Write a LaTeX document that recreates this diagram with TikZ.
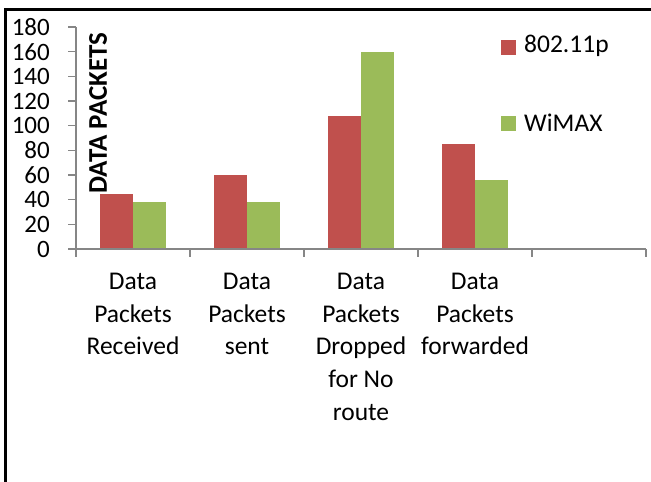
\documentclass[tikz,border=0pt]{standalone}
\usepackage{fontspec}
\setmainfont{Carlito}
\usepackage{tikz}
\usetikzlibrary{positioning}
\definecolor{barred}{RGB}{192,80,77}
\definecolor{bargreen}{RGB}{155,187,89}
\definecolor{axisgray}{RGB}{134,134,134}
\tikzstyle{axisline} = [axisgray, line width=1.2pt]
\tikzstyle{ticklabel} = [font=\fontsize{25}{30}\selectfont, anchor=east, inner sep=0pt]
\tikzstyle{catlabel} = [font=\fontsize{25.5}{32.7}\selectfont, align=center, anchor=north, inner sep=0pt]
\tikzstyle{legendtext} = [font=\fontsize{25.5}{30}\selectfont, anchor=west, inner sep=0pt]

\begin{document}
\begin{tikzpicture}[x=1pt, y=-1pt]
\useasboundingbox (0,0) rectangle (651,482);
% Frame
\draw[line width=3pt] (5.5,482) -- (5.5,9.5) -- (651,9.5);

% Bars
\foreach \i/\r/\g in {0/45/38,1/60/38,2/108/160,3/85/56} {
  \fill[barred] (100+114*\i,249) rectangle ++(33,-1.2333*\r);
  \fill[bargreen] (133+114*\i,249) rectangle ++(33,-1.2333*\g);
}

% Axes
\coordinate (O) at (76,249);
\coordinate (ytop) at (76,27);
\coordinate (xend) at (646,249);
\draw[axisline] (ytop) -- (O) -- (xend);
\foreach \v in {0,20,...,180} {
  \draw[axisline] (68,249-1.2333*\v) -- (76,249-1.2333*\v);
  \node[ticklabel] (yl\v) at (50,249-1.2333*\v) {\v};
}
\foreach \i in {0,...,5}
  \draw[axisline] (76+114*\i,249) -- ++(0,8);

% Labels
\node[catlabel] (c1) at (133,273) {Data\\Packets\\Received};
\node[catlabel] (c2) at (247,273) {Data\\Packets\\sent};
\node[catlabel] (c3) at (361,273) {Data\\Packets\\Dropped\\for No\\route};
\node[catlabel] (c4) at (475,273) {Data\\Packets\\forwarded};
\node[font=\fontsize{27}{30}\selectfont\bfseries, rotate=90, inner sep=0pt] (ytitle) at (98,113) {DATA PACKETS};

% Legend
\fill[barred] (501,40) rectangle (516,55);
\node[legendtext] (l1) at (524,46) {802.11p};
\fill[bargreen] (501,116) rectangle (516,131);
\node[legendtext] (l2) at (524,123) {WiMAX};
\end{tikzpicture}
\end{document}
